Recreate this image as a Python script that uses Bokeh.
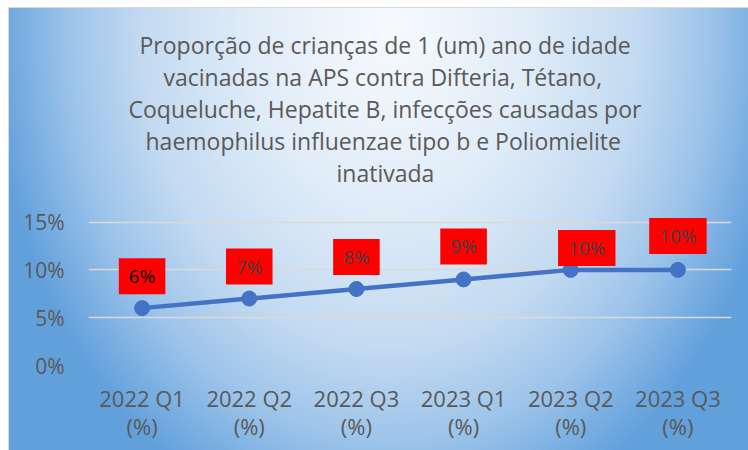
from bokeh.plotting import figure
from bokeh.models import (ColumnDataSource, Range1d, FixedTicker, NumeralTickFormatter, Title,
                          CategoricalAxis, CustomJSTickFormatter)
from bokeh.core.properties import value
from bokeh.embed import file_html
from bokeh.resources import INLINE

# ---- data ----
categories = ["2022 Q1 (%)", "2022 Q2 (%)", "2022 Q3 (%)", "2023 Q1 (%)", "2023 Q2 (%)", "2023 Q3 (%)"]
values = [0.06, 0.07, 0.08, 0.09, 0.10, 0.10]
y_ticks = [0.0, 0.05, 0.10, 0.15]
title_lines = ["Proporção de crianças de 1 (um) ano de idade",
               "vacinadas na APS contra Difteria, Tétano,",
               "Coqueluche, Hepatite B, infecções causadas por",
               "haemophilus influenzae tipo b e Poliomielite",
               "inativada"]

# label / title placement and style (not data)
label_dx = [0, 0, 0, 0, 16, 0]
label_rise = [32, 32, 32, 33, 22, 34]
label_colors = ["#000000", "#404040", "#404040", "#404040", "#404040", "#404040"]
title_left_offsets = [51, 75, 40, 57, 248]   # px from plot frame left, centres lines at ~385

FONT = "Open Sans"
GRAY = "#595959"

source = ColumnDataSource(dict(
    cat=categories,
    val=values,
    label=[f"{v:.0%}" for v in values],
    dx=label_dx,
    dy=[-r for r in label_rise],
    color=label_colors,
))

p = figure(width=748, height=450, x_range=categories, y_range=Range1d(0, 0.16),
           output_backend="svg", toolbar_location=None,
           min_border_left=88, min_border_right=17, min_border_bottom=85, min_border_top=212)
p.x_range.range_padding = 0
p.border_fill_alpha = 0
p.background_fill_alpha = 0
p.outline_line_color = None
p.styles = {
    "background": ("linear-gradient(#d9d9d9, #d9d9d9) 8px 7px / 740px 1px no-repeat, "
                   "linear-gradient(#d9d9d9, #d9d9d9) 8px 7px / 1px 443px no-repeat, "
                   "radial-gradient(ellipse 400px 520px at 382px 18px, #f7fafd 0%, #e0ecf8 35%, "
                   "#c3daf1 62%, #9dc4ea 80%, #62a0dc 100%) "
                   "8px 7px / 740px 443px no-repeat, #ffffff"),
}

# chart title: spacer next to the frame, then the five lines stacked upward
p.add_layout(Title(text=" ", text_font=FONT, text_font_size="10px", standoff=9), "above")
for line, off in reversed(list(zip(title_lines, title_left_offsets))):
    p.add_layout(Title(text=line, align="left", offset=off, text_font=FONT,
                       text_font_size="23px", text_font_style="normal",
                       text_color=GRAY, standoff=-2.2), "above")

# axes: two label rows below ("2022 Q1" / "(%)") from the same factors
p.yaxis.ticker = FixedTicker(ticks=y_ticks)
p.yaxis.formatter = NumeralTickFormatter(format="0%")
p.xaxis.formatter = CustomJSTickFormatter(code="return String(tick).split(' (')[0];")
x2 = CategoricalAxis(formatter=CustomJSTickFormatter(code="return '(' + String(tick).split(' (')[1];"))
p.add_layout(x2, "below")
for ax in (p.xaxis[0], x2, p.yaxis[0]):
    ax.axis_line_color = None
    ax.major_tick_line_color = None
    ax.minor_tick_line_color = None
    ax.major_tick_in = 0
    ax.major_tick_out = 0
    ax.major_label_text_font = FONT
    ax.major_label_text_font_size = "22px"
    ax.major_label_text_color = GRAY
p.yaxis.major_label_text_font_size = "21px"
p.yaxis.major_label_standoff = 24
p.xaxis[0].major_label_standoff = 17
x2.major_label_standoff = -5

p.xgrid.grid_line_color = None
p.ygrid.ticker = FixedTicker(ticks=y_ticks)
p.ygrid.grid_line_color = "#d9d9d9"
p.ygrid.grid_line_width = 1.5

p.line("cat", "val", source=source, line_color="#4472c4", line_width=4.5)
p.scatter("cat", "val", source=source, size=15, fill_color="#4472c4", line_color="#4472c4")

p.text("cat", "val", text="label", source=source, x_offset="dx", y_offset="dy",
       text_align="center", text_baseline="middle", text_font=value(FONT),
       text_font_size="19px", text_color="color",
       background_fill_color="#ff0000", padding=(10, 5))

open("out.html", "w").write(file_html(p, INLINE))
